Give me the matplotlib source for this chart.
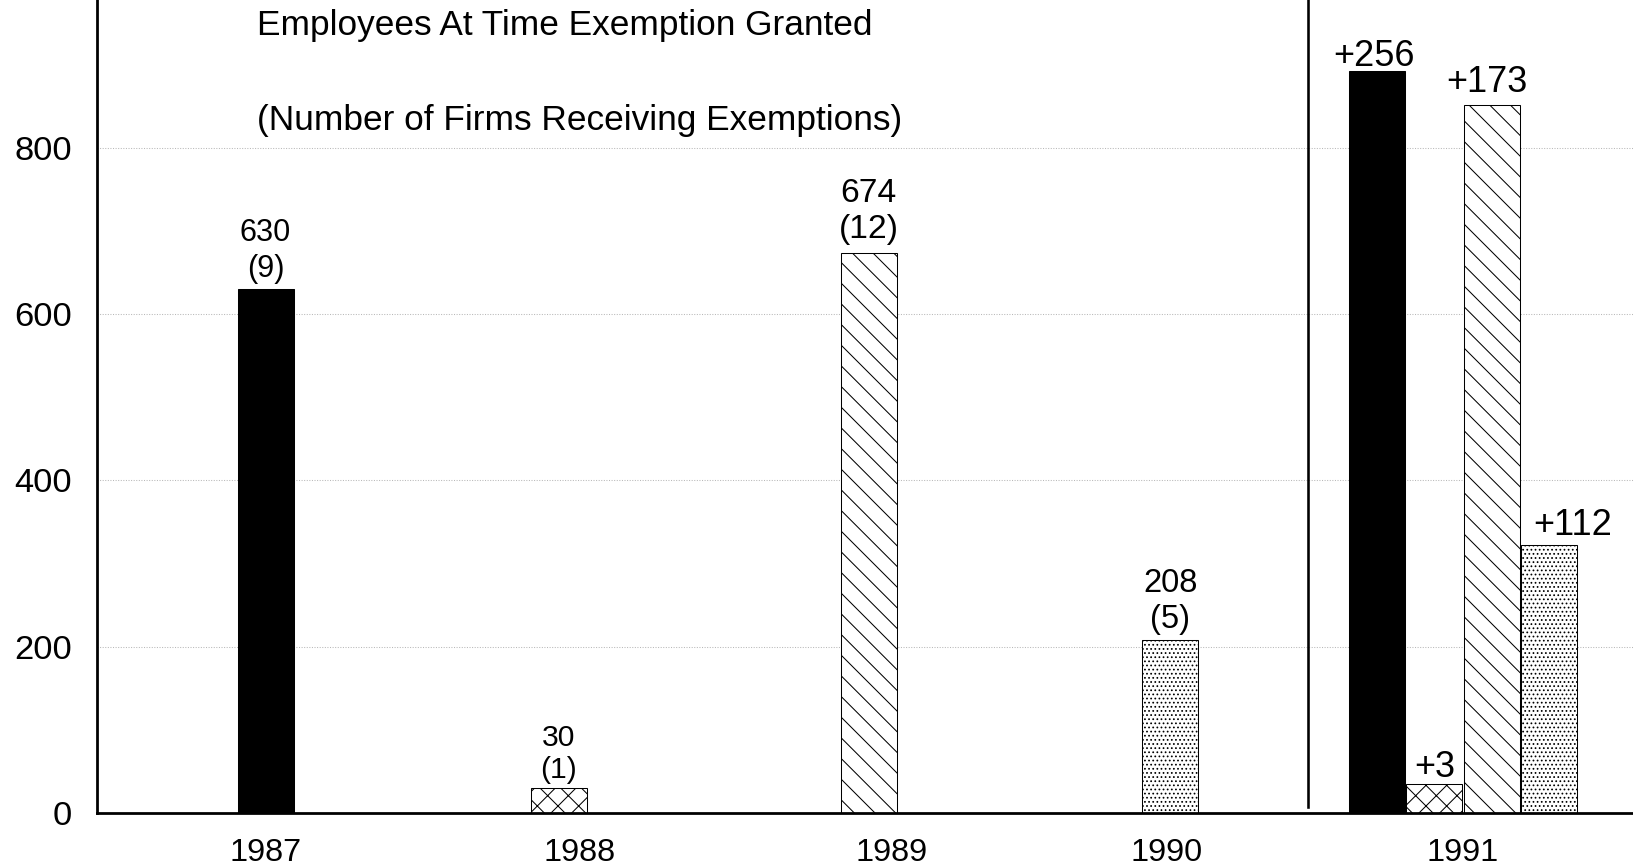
import matplotlib
matplotlib.use('Agg')
import matplotlib.pyplot as plt

# ---- data ----
years = ['1987', '1988', '1989', '1990', '1991']
employees = [630, 30, 674, 208]          # employees at time exemption granted
firms = [9, 1, 12, 5]                    # number of firms receiving exemptions
totals_1991 = [892, 34, 852, 322]        # 1991 bar heights as drawn
increase_1991 = [256, 3, 173, 112]       # 1991 increments shown as labels
yticks = [0, 200, 400, 600, 800]

# ---- styles ----
hatches = ['', 'xx', '\\\\', '.....']
faces = ['black', 'white', 'white', 'white']
label_sizes = [17.8, 17.5, 19.5, 19.0]
label_spacing = [1.24, 1.2, 1.22, 1.2]
label_gap = [3.0, 2.0, 4.3, 3.0]

DPI = 124
W, H = 1633, 866
plt.rcParams['font.family'] = ['Liberation Sans', 'DejaVu Sans']
plt.rcParams['hatch.linewidth'] = 0.6
plt.rcParams['hatch.color'] = 'black'

fig = plt.figure(figsize=(W / DPI, H / DPI), dpi=DPI)
ax = fig.add_axes([97 / W, 53.3 / H, 1 - 97 / W, 812.7 / H])

bar_pos = [0, 0.972, 2.0, 3.0]
group_center = 3.971
step = 0.19
width = 0.186
pos_1991 = [group_center + (i - 1.5) * step for i in range(4)]
tick_pos = [0.0, 1.04, 2.076, 2.989, 3.97]
sep_x = 3.457
inc_nudge = [(-1.7, 3.3), (0, 4.4), (-2.6, 7.5), (13.9, 5.8)]

for i in range(4):
    ax.bar(bar_pos[i], employees[i], width=width, color=faces[i],
           edgecolor='black', hatch=hatches[i], linewidth=0.6, zorder=2)
    ax.annotate(f'{employees[i]}\n({firms[i]})', xy=(bar_pos[i], employees[i]),
                xytext=(0, label_gap[i]), textcoords='offset points',
                ha='center', va='bottom', fontsize=label_sizes[i],
                linespacing=label_spacing[i])
    ax.bar(pos_1991[i], totals_1991[i], width=width, color=faces[i],
           edgecolor='black', hatch=hatches[i], linewidth=0.6, zorder=2)
    ax.annotate(f'+{increase_1991[i]}', xy=(pos_1991[i], totals_1991[i]),
                xytext=inc_nudge[i], textcoords='offset points', ha='center',
                va='baseline', fontsize=21)

ax.axvline(sep_x, ymin=7 / 978, ymax=1, color='black', lw=1.5, zorder=3)

ax.set_xlim(-0.559, 4.535)
ax.set_ylim(0, 978)
ax.set_yticks(yticks)
ax.set_xticks(tick_pos)
ax.set_xticklabels(years)
ax.tick_params(axis='y', length=0, pad=14.5, labelsize=20)
ax.tick_params(axis='x', length=0, pad=14.5, labelsize=18.8)

ax.yaxis.grid(True, color='#b8b8b8', linestyle=(0, (1, 1.5)), linewidth=0.6)
ax.set_axisbelow(True)
for s in ['top', 'right']:
    ax.spines[s].set_visible(False)
for s in ['left', 'bottom']:
    ax.spines[s].set_linewidth(1.6)

fig.text(257 / W, 1 - 35 / H, 'Employees At Time Exemption Granted',
         ha='left', va='baseline', fontsize=20.5)
fig.text(257 / W, 1 - 130 / H, '(Number of Firms Receiving Exemptions)',
         ha='left', va='baseline', fontsize=20.5)

fig.savefig('out.png', dpi=DPI)
